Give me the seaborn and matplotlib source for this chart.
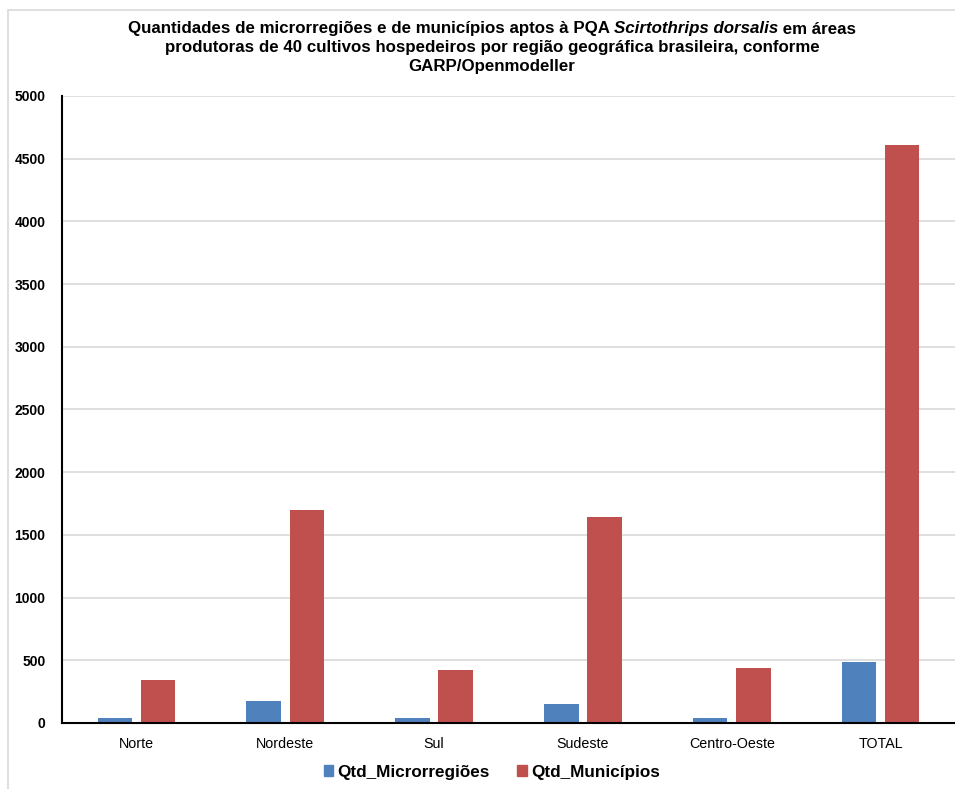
import matplotlib
matplotlib.use("Agg")
import matplotlib.pyplot as plt
from matplotlib import font_manager
from matplotlib.patches import Rectangle
import seaborn as sns
import pandas as pd

# Data per Brazilian geographic region
regioes = ["Norte", "Nordeste", "Sul", "Sudeste", "Centro-Oeste", "TOTAL"]
qtd_microrregioes = [40, 172, 40, 152, 40, 489]
qtd_municipios = [345, 1695, 423, 1643, 441, 4609]
series = ["Qtd_Microrregiões", "Qtd_Municípios"]
y_ticks = [0, 500, 1000, 1500, 2000, 2500, 3000, 3500, 4000, 4500, 5000]

cores = ["#4F81BD", "#C0504D"]

df = pd.DataFrame({
    "Região": regioes * 2,
    "Série": [series[0]] * len(regioes) + [series[1]] * len(regioes),
    "Quantidade": qtd_microrregioes + qtd_municipios,
})

sns.set_theme(style="white")
plt.rcParams["font.family"] = ["Liberation Sans", "DejaVu Sans"]
plt.rcParams["text.color"] = "black"
plt.rcParams["xtick.color"] = "black"
plt.rcParams["ytick.color"] = "black"
plt.rcParams["xtick.labelcolor"] = "black"
plt.rcParams["ytick.labelcolor"] = "black"

W, H = 955, 789
fig = plt.figure(figsize=(W / 100, H / 100), dpi=100)

# outer chart frame
fig.patches.append(Rectangle((8 / W, -0.05), 1.1, 1 - 10 / H + 0.05,
                             transform=fig.transFigure, fill=False,
                             edgecolor="#D9D9D9", lw=1.2))

ax = fig.add_axes([62 / W, 1 - 723 / H, (955 - 62) / W, (723 - 96) / H])
sns.barplot(data=df, x="Região", y="Quantidade", hue="Série", hue_order=series,
            order=regioes, palette=cores, saturation=1, width=0.58, gap=0.2,
            legend=False, ax=ax, edgecolor="none")

ax.set_xlim(-0.5, len(regioes) - 0.5)
ax.set_ylim(0, 5000)
ax.set_yticks(y_ticks)
ax.set_yticklabels([str(v) for v in y_ticks], fontsize=10, fontweight="bold")
ax.set_xticklabels(regioes, fontsize=10.3)
ax.tick_params(axis="x", length=0, pad=10)
ax.tick_params(axis="y", length=0, pad=12)
ax.set_xlabel("")
ax.set_ylabel("")
ax.yaxis.grid(True, color="#D9D9D9", lw=1.2)
ax.set_axisbelow(True)
for s in ["top", "right"]:
    ax.spines[s].set_visible(False)
for s in ["left", "bottom"]:
    ax.spines[s].set_color("black")
    ax.spines[s].set_linewidth(1.5)

# Title, first line mixes bold and bold-italic
fig.canvas.draw()
renderer = fig.canvas.get_renderer()
tsize = 12.15
cx = 492
parts = [("Quantidades de microrregiões e de municípios aptos à PQA ", "normal"),
         ("Scirtothrips dorsalis", "italic"),
         (" em áreas", "normal")]
texts = []
for txt, style in parts:
    t = fig.text(0, 0, txt, fontsize=tsize, fontweight="bold", style=style,
                 ha="left", va="center")
    texts.append(t)
widths = [t.get_window_extent(renderer).width for t in texts]
x0 = cx - sum(widths) / 2
y1 = 1 - 29 / H
for t, w in zip(texts, widths):
    t.set_position((x0 / W, y1))
    x0 += w
fig.text(cx / W, 1 - 47.5 / H,
         "produtoras de 40 cultivos hospedeiros por região geográfica brasileira, conforme",
         fontsize=tsize, fontweight="bold", ha="center", va="center")
fig.text(cx / W, 1 - 66 / H, "GARP/Openmodeller",
         fontsize=tsize, fontweight="bold", ha="center", va="center")

handles = [Rectangle((0, 0), 1, 1, color=c) for c in cores]
fig.legend(handles, series, loc="center", bbox_to_anchor=(492 / W, 1 - 772 / H),
           ncol=2, frameon=False, handlelength=0.55, handleheight=0.55,
           handletextpad=0.25, columnspacing=1.6,
           prop={"size": 12.3, "weight": "bold"})

fig.savefig("out.png", dpi=100)
